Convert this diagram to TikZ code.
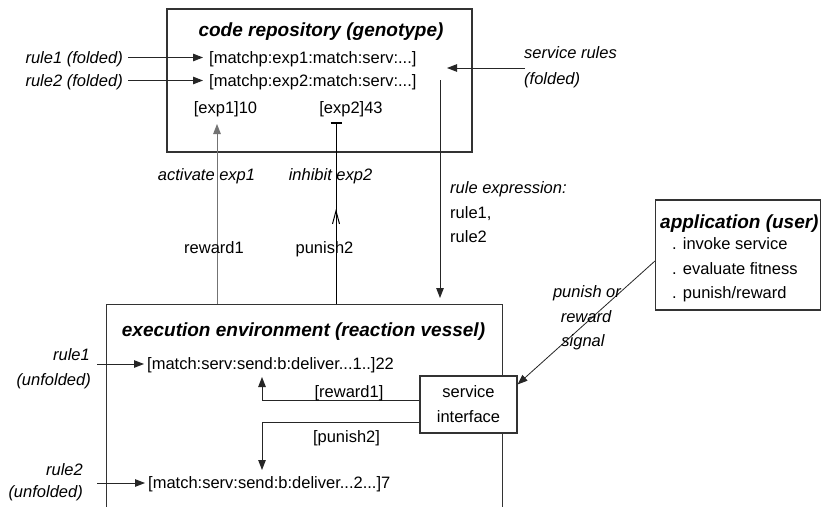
\documentclass[tikz,border=0pt]{standalone}
\usepackage{fontspec}
\setmainfont{Liberation Sans}
\usetikzlibrary{arrows.meta,decorations.markings}
\newcommand{\fsnorm}{\fontsize{16.5pt}{20pt}\selectfont}
\newcommand{\fstitle}{\fontsize{19pt}{23pt}\selectfont\bfseries\itshape}
\begin{document}
\begin{tikzpicture}[x=1pt,y=-1pt,
  lbl/.style={font=\fsnorm, inner sep=3pt, text height=11.8pt, text depth=0pt},
  ilbl/.style={lbl, font=\fsnorm\itshape},
  ttl/.style={font=\fstitle, inner sep=3pt, text height=13.6pt, text depth=0pt},
  boxst/.style={draw=black!80, line width=1.1pt, fill=white, inner sep=0pt},
  arr/.style={draw=black!85, line width=1pt, -{Triangle[length=10pt,width=7.5pt]}},
  inhib/.style={draw=black, line width=1pt, -{Bar[width=11pt,line width=2.2pt]},
    postaction={decorate},
    decoration={markings, mark=at position 0.522 with {\arrow{Straight Barb[length=13pt,width=7pt]}}}}
]
\useasboundingbox (0,0) rectangle (821,506);
\clip (0,0) rectangle (821,506);
\fill[white] (0,0) rectangle (821,506);

% boxes
\node[boxst, minimum width=305pt, minimum height=143pt] (repo) at (319.5,80.5) {};
\node[boxst, minimum width=396pt, minimum height=240pt, anchor=north west] (exec) at (106,304) {};
\node[boxst, minimum width=165pt, minimum height=110pt] (app) at (738,255) {};

% code repository contents
\node[ttl] (repot) at (321,30) {code repository (genotype)};
\node[lbl, anchor=west] (m1) at (206,57.5) {[matchp:exp1:match:serv:...]};
\node[lbl, anchor=west] (m2) at (206,80.5) {[matchp:exp2:match:serv:...]};
\node[lbl] (e1) at (225.5,107.5) {[exp1]10};
\node[lbl] (e2) at (351,107.5) {[exp2]43};

\node[ilbl, anchor=east] (r1f) at (126,57.5) {rule1 (folded)};
\node[ilbl, anchor=east] (r2f) at (126,80.5) {rule2 (folded)};
\draw[arr, shorten <=2pt, shorten >=3pt] (r1f.east) -- (m1.west);
\draw[arr, shorten <=2pt, shorten >=3pt] (r2f.east) -- (m2.west);

\node[ilbl, anchor=west] (sr1) at (521,53) {service rules};
\node[ilbl, anchor=west] (sr2) at (521,79) {(folded)};
\coordinate (srtip) at (447,68);
\draw[arr, shorten <=-4pt] (sr1.west |- srtip) -- (srtip);

% rule expression
\coordinate (rx) at (440,80);
\draw[arr, shorten >=6pt] (rx) -- (rx |- exec.north);
\node[ilbl, anchor=west] (rx1) at (447,188) {rule expression:};
\node[lbl, anchor=west] (rx2) at (447,213) {rule1,};
\node[lbl, anchor=west] (rx3) at (447,237) {rule2};

% activate / inhibit
\coordinate (act) at (217,124);
\draw[arr, draw=black!55] (act |- exec.north) -- (act);
\coordinate (inh) at (336,122);
\draw[inhib] (inh |- exec.north) -- (inh);
\node[ilbl] (la) at (206.5,175) {activate exp1};
\node[ilbl] (li) at (330.5,175) {inhibit exp2};
\node[lbl] (lr) at (214,248) {reward1};
\node[lbl] (lp) at (324.5,248) {punish2};

% execution environment contents
\node[ttl] (exect) at (303.5,330) {execution environment (reaction vessel)};
\node[lbl, anchor=west] (x1) at (144,364) {[match:serv:send:b:deliver...1..]22};
\node[lbl, anchor=west] (x2) at (145,483) {[match:serv:send:b:deliver...2...]7};
\node[ilbl, anchor=east] (u1a) at (93,355) {rule1};
\node[ilbl, anchor=east] (u1b) at (94,380) {(unfolded)};
\node[ilbl, anchor=east] (u2a) at (86,470) {rule2};
\node[ilbl, anchor=east] (u2b) at (86,492) {(unfolded)};
\draw[arr, shorten <=4pt] (u1a.east |- x1.west) -- (x1.west);
\draw[arr, shorten <=11pt] (u2a.east |- x2.west) -- (x2.west);

% service interface
\node[boxst, minimum width=97pt, minimum height=57pt, align=center,
      font=\fontsize{16.5pt}{25pt}\selectfont] (si) at (468.5,404.5) {service\\interface};
\coordinate (rwtip) at (262,377);
\coordinate (pntip) at (262,470);
\draw[arr] ([yshift=4.5pt]si.west) -| (rwtip);
\draw[arr] ([yshift=-17.5pt]si.west) -| (pntip);
\node[lbl] (rwl) at (349,391.5) {[reward1]};
\node[lbl] (pnl) at (346.5,436.5) {[punish2]};

% application
\node[ttl, anchor=west, inner sep=2pt] (appt) at (658,222) {application (user)};
\node[lbl, anchor=west] (a1) at (669,244) {. invoke service};
\node[lbl, anchor=west] (a2) at (669,269) {. evaluate fitness};
\node[lbl, anchor=west] (a3) at (669,293) {. punish/reward};

\draw[arr, line width=0.8pt] ([yshift=-6pt]app.west) -- ([yshift=-9pt]si.north east);
\node[ilbl] (ps1) at (587,292) {punish or};
\node[ilbl] (ps2) at (586,317) {reward};
\node[ilbl] (ps3) at (583,341) {signal};
\end{tikzpicture}
\end{document}
